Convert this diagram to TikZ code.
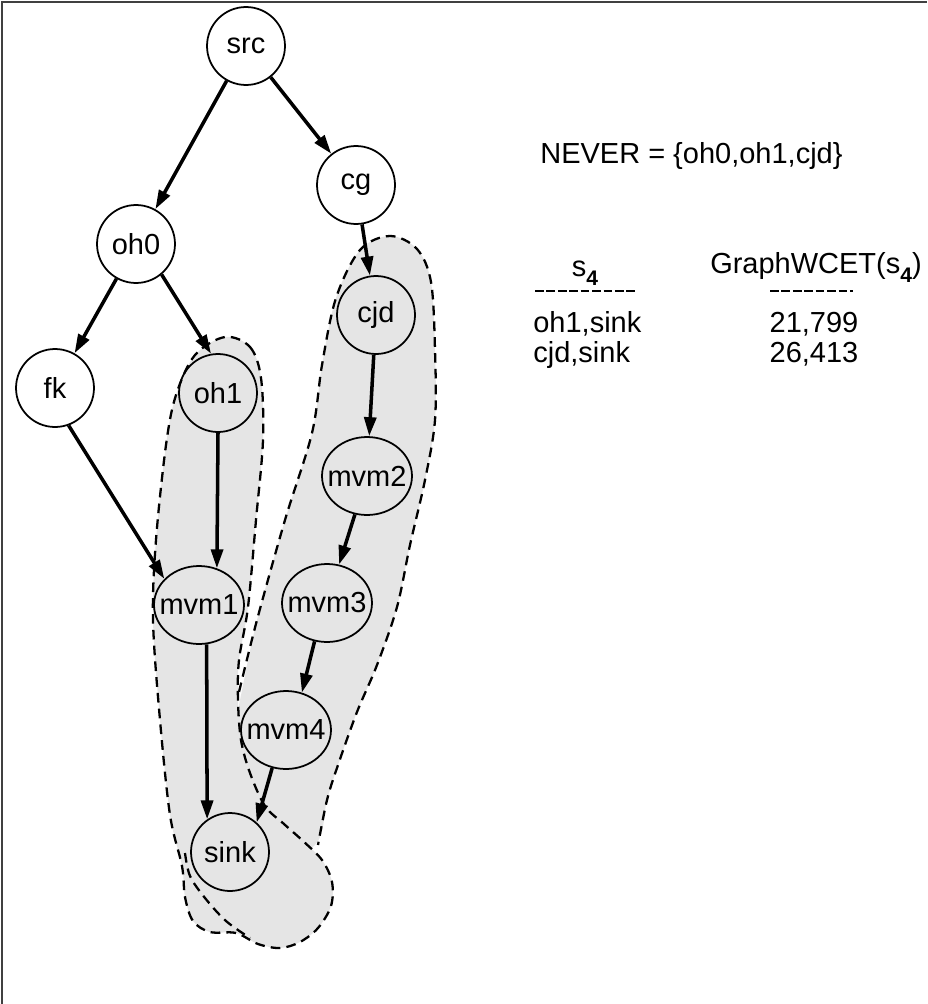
\documentclass[tikz,border=0pt]{standalone}
\usepackage{fontspec}
\setmainfont{Liberation Sans}
\usetikzlibrary{shapes.geometric,arrows.meta}
\begin{document}
\begin{tikzpicture}[x=0.02cm,y=-0.02cm,
 every node/.style={font=\fontsize{16.5}{19}\selectfont},
 circ/.style={circle,draw,line width=1pt,minimum size=1.56cm,inner sep=0pt},
 ell/.style={ellipse,draw,line width=1pt,minimum width=1.8cm,minimum height=1.56cm,inner sep=0pt},
 arr/.style={line width=2pt,-{Triangle[length=0.38cm,width=0.24cm]}},
 regionfill/.style={fill=gray!20},
 rline/.style={line width=1.3pt,dash pattern=on 5.5pt off 3.5pt},
 ul/.style={line width=0.8pt,dash pattern=on 5pt off 1.5pt},
]
\useasboundingbox (0,0) rectangle (927,1004);
\draw[line width=1pt,black!75] (2,1004) -- (2,2) -- (927,2);

% shaded regions
\fill[regionfill] plot[smooth cycle,tension=0.55] coordinates {(225,337) (250,347) (261,378) (263,440) (256,520) (248,607) (239,660) (238,700) (241,740) (250,773) (265,806) (284,824) (303,841) (322,860) (332,882) (331,906) (318,928) (300,942) (280,948) (258,944) (236,933) (210,932) (193,921) (185,897) (182,866) (170,815) (160,720) (153,620) (156,540) (166,445) (176,395) (195,355)};
\fill[regionfill] plot[smooth cycle,tension=0.55] coordinates {(240,700) (257,620) (285,520) (312,433) (322,365) (336,298) (360,250) (390,236) (417,249) (431,282) (435,350) (435,420) (425,480) (410,545) (397,607) (377,665) (357,712) (338,765) (327,800) (315,845) (260,870) (200,865) (205,790) (232,740)};

\draw[rline] plot[smooth cycle,tension=0.55] coordinates {(225,337) (250,347) (261,378) (263,440) (256,520) (248,607) (239,660) (238,700) (241,740) (250,773) (265,806) (284,824) (303,841) (322,860) (332,882) (331,906) (318,928) (300,942) (280,948) (258,944) (236,933) (210,932) (193,921) (185,897) (182,866) (170,815) (160,720) (153,620) (156,540) (166,445) (176,395) (195,355)};
\draw[rline] plot[smooth,tension=0.55] coordinates {(239,692) (257,620) (285,520) (312,433) (322,365) (336,298) (360,250) (390,236) (417,249) (431,282) (435,350) (435,420) (425,480) (410,545) (397,607) (377,665) (357,712) (338,765) (327,800) (318,845)};
\draw[rline] plot[smooth,tension=0.55] coordinates {(185,853) (190,876) (205,898) (226,921) (250,938)};

% nodes
\node[circ,fill=white] (src) at (246,46) {src};
\node[circ,fill=white] (cg) at (356,185) {cg};
\node[circ,fill=white] (oh0) at (136,244) {oh0};
\node[circ,fill=white] (fk) at (55,388) {fk};
\node[circ] (oh1) at (218,393) {oh1};
\node[circ] (cjd) at (376,315) {cjd};
\node[ell] (mvm2) at (367,476) {\makebox[0pt]{mvm2}};
\node[ell] (mvm1) at (199,605) {\makebox[0pt]{mvm1}};
\node[ell] (mvm3) at (327,603) {\makebox[0pt]{mvm3}};
\node[ell] (mvm4) at (286,730) {\makebox[0pt]{mvm4}};
\node[circ] (sink) at (230,852) {sink};

% edges
\draw[arr] (src) -- (oh0);
\draw[arr] (src) -- (cg);
\draw[arr] (cg) -- (cjd);
\draw[arr] (oh0) -- (fk);
\draw[arr] (oh0.-50) -- (oh1.100);
\draw[arr] (fk.-70) -- (mvm1.143);
\draw[arr] (oh1.-90) -- (mvm1.64);
\draw[arr] (mvm1.-79) -- (sink.125);
\draw[arr] (cjd) -- (mvm2);
\draw[arr] (mvm2) -- (mvm3);
\draw[arr] (mvm3.-108) -- (mvm4.67);
\draw[arr] (mvm4.-110) -- (sink.48);

% text
\node[anchor=base west,inner sep=0pt] (never) at (540,163) {NEVER = \{oh0,oh1,cjd\}};
\node[anchor=base,inner sep=0pt] (hs) at (585,276) {s\raisebox{-0.6ex}{\fontsize{12}{12}\selectfont\bfseries 4}};
\node[anchor=base,inner sep=0pt] (hw) at (816,273) {GraphWCET(s\raisebox{-0.6ex}{\fontsize{12}{12}\selectfont\bfseries 4})};
\coordinate (u1a) at (535,291); \coordinate (u1b) at (635,291);
\coordinate (u2a) at (770,291); \coordinate (u2b) at (853,291);
\draw[ul] (u1a) -- (u1b);
\draw[ul] (u2a) -- (u2b);
\node[anchor=base west,inner sep=0pt] (r1a) at (533,332) {oh1,sink};
\node[anchor=base west,inner sep=0pt] (r2a) at (533,362) {cjd,sink};
\node[anchor=base,inner sep=0pt] (r1b) at (814,332) {21,799};
\node[anchor=base,inner sep=0pt] (r2b) at (814,362) {26,413};
\end{tikzpicture}
\end{document}
